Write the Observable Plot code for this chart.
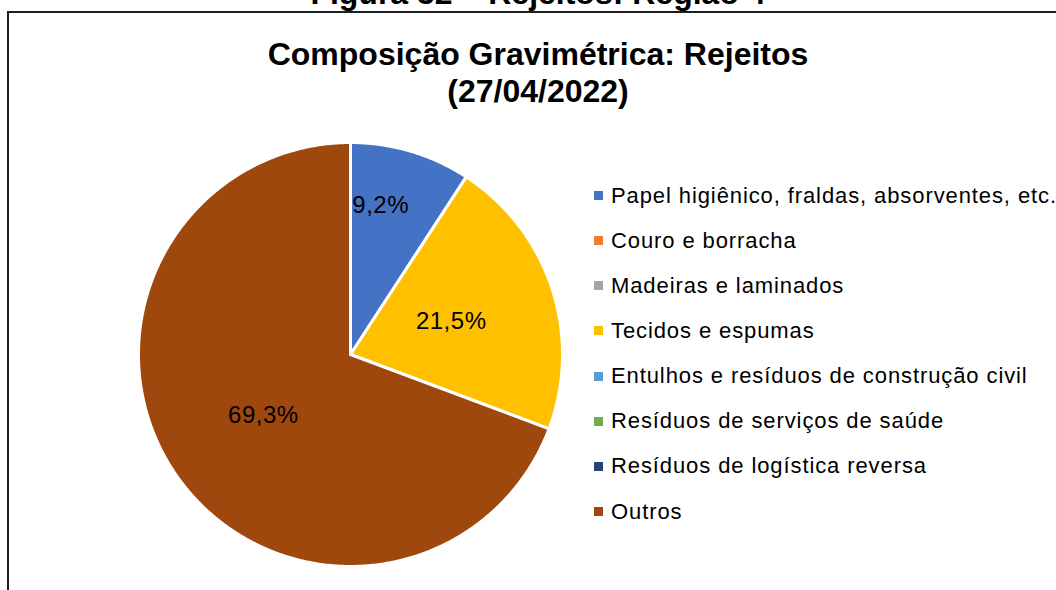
<!DOCTYPE html>
<html>
<head>
<meta charset="utf-8">
<script src="https://cdn.jsdelivr.net/npm/d3@7"></script>
<script src="https://cdn.jsdelivr.net/npm/@observablehq/plot@0.6"></script>
<style>
  html, body { margin: 0; padding: 0; background: #fff; }
  body { width: 1056px; height: 590px; overflow: hidden; position: relative; font-family: "Liberation Sans", Arial, sans-serif; color: #000; }
  #figcap { position: absolute; left: 0; width: 1076px; text-align: center; top: -23px; font-size: 32px; font-weight: bold; line-height: 32px; white-space: nowrap; }
  #frame { position: absolute; left: 7px; top: 11px; width: 1200px; height: 800px; border-left: 2px solid #1e1e1e; border-top: 2px solid #1e1e1e; }
  #title { position: absolute; left: 0; width: 1076px; top: 36px; text-align: center; font-size: 32px; font-weight: bold; line-height: 37px; white-space: nowrap; }
  #chart { position: absolute; left: 130px; top: 134px; }
  #legend { position: absolute; left: 594px; top: 173px; }
  .item { height: 45.15px; display: flex; align-items: center; font-size: 22px; letter-spacing: 0.9px; white-space: nowrap; }
  .sw { width: 9px; height: 9px; margin-right: 8px; flex: none; }
</style>
</head>
<body>
<div id="figcap">Figura 52 – Rejeitos: Região 4</div>
<div id="frame"></div>
<div id="title">Composição Gravimétrica: Rejeitos<br>(27/04/2022)</div>
<div id="chart"></div>
<div id="legend"></div>
<script>
const categories = [
  "Papel higiênico, fraldas, absorventes, etc.",
  "Couro e borracha",
  "Madeiras e laminados",
  "Tecidos e espumas",
  "Entulhos e resíduos de construção civil",
  "Resíduos de serviços de saúde",
  "Resíduos de logística reversa",
  "Outros"
];
const values = [9.2, 0, 0, 21.5, 0, 0, 0, 69.3];
const colors = ["#4472C4", "#ED7D31", "#A5A5A5", "#FFC000", "#5B9BD5", "#70AD47", "#264478", "#9E480E"];

const rows = categories.map((c, i) => ({category: c, value: values[i]}));
const arcs = d3.pie().sort(null).value(d => d.value).startAngle(0).endAngle(2 * Math.PI)(rows)
  .filter(a => a.data.value > 0);

// polygon points for each slice on the unit circle (angle clockwise from top)
const slicePts = [];
for (const a of arcs) {
  const cat = a.data.category;
  slicePts.push({category: cat, x: 0, y: 0});
  const n = Math.max(2, Math.ceil((a.endAngle - a.startAngle) / (Math.PI / 360)));
  for (let k = 0; k <= n; k++) {
    const t = a.startAngle + (a.endAngle - a.startAngle) * k / n;
    slicePts.push({category: cat, x: Math.sin(t), y: Math.cos(t)});
  }
  slicePts.push({category: cat, x: 0, y: 0});
}

const fmt = v => d3.format(".1f")(v).replace(".", ",") + "%";
const labelPts = arcs.map(a => {
  const share = a.data.value / d3.sum(values);
  const mid = (a.startAngle + a.endAngle) / 2 - (share < 0.15 ? 0.09 : 0);
  const r = share < 0.15 ? 0.72 : 0.5;
  return {x: r * Math.sin(mid), y: r * Math.cos(mid), label: fmt(a.data.value)};
});

const R = 220 / 212;
const chart = Plot.plot({
  width: 440,
  height: 440,
  margin: 0,
  x: {domain: [-R, R], axis: null},
  y: {domain: [-R, R], axis: null},
  color: {domain: categories, range: colors},
  style: {fontFamily: '"Liberation Sans", Arial, sans-serif', background: "transparent"},
  marks: [
    Plot.line(slicePts, {x: "x", y: "y", z: "category", fill: "category", stroke: "#fff", strokeWidth: 3, strokeLinejoin: "round", curve: "linear"}),
    Plot.text(labelPts, {x: "x", y: "y", text: "label", fontSize: 24, fill: "#000"})
  ]
});
chart.querySelectorAll("text").forEach(t => t.style.letterSpacing = "0.5px");
document.getElementById("chart").appendChild(chart);

const legend = document.getElementById("legend");
categories.forEach((c, i) => {
  const it = document.createElement("div");
  it.className = "item";
  const sw = document.createElement("span");
  sw.className = "sw";
  sw.style.background = colors[i];
  const tx = document.createElement("span");
  tx.textContent = c;
  it.appendChild(sw);
  it.appendChild(tx);
  legend.appendChild(it);
});
</script>
</body>
</html>
